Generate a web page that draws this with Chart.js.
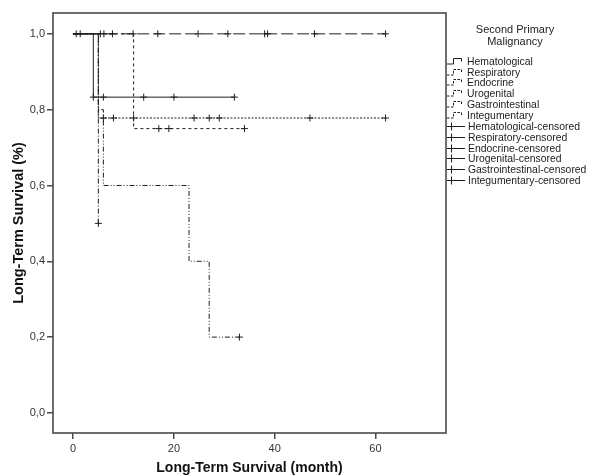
<!DOCTYPE html>
<html>
<head>
<meta charset="utf-8">
<script src="https://cdn.jsdelivr.net/npm/chart.js@4/dist/chart.umd.min.js"></script>
<style>
  html, body { margin: 0; padding: 0; background: #fff; }
  #wrap { width: 589px; height: 475px; }
</style>
</head>
<body>
<div id="wrap"><canvas id="km_chart"></canvas></div>
<script>
var groups = ['Hematological', 'Respiratory', 'Endocrine', 'Urogenital', 'Gastrointestinal', 'Integumentary'];
var xTicks = [0, 20, 40, 60];
var yTicks = [0, 0.2, 0.4, 0.6, 0.8, 1.0];

// step curves: time (month) and survival after that time
var hemTime = [0, 4, 32];
var hemSurv = [1, 0.833, 0.833];
var resTime = [0, 12, 34];
var resSurv = [1, 0.75, 0.75];
var endTime = [0, 5, 62];
var endSurv = [1, 0.778, 0.778];
var uroTime = [0, 5];
var uroSurv = [1, 0.5];
var gasTime = [0, 5, 6, 23, 27, 33];
var gasSurv = [1, 0.8, 0.6, 0.4, 0.2, 0.2];
var intTime = [0, 62];
var intSurv = [1, 1];

// censored cases
var hemCensTime = [4, 6, 14, 20, 32];
var hemCensSurv = [0.833, 0.833, 0.833, 0.833, 0.833];
var resCensTime = [17, 19, 34];
var resCensSurv = [0.75, 0.75, 0.75];
var endCensTime = [6, 8, 12, 24, 27, 29, 47, 62];
var endCensSurv = [0.778, 0.778, 0.778, 0.778, 0.778, 0.778, 0.778, 0.778];
var uroCensTime = [0.6, 1.4, 5];
var uroCensSurv = [1, 1, 0.5];
var gasCensTime = [33];
var gasCensSurv = [0.2];
var intCensTime = [5.4, 6.1, 7.8, 11.9, 16.8, 24.8, 30.7, 38, 38.6, 47.9, 62];
var intCensSurv = [1, 1, 1, 1, 1, 1, 1, 1, 1, 1, 1];

var curves = [
    [hemTime, hemSurv, []],
    [resTime, resSurv, [3, 3]],
    [endTime, endSurv, [2, 1.5]],
    [uroTime, uroSurv, [5, 2, 1, 2]],
    [gasTime, gasSurv, [5, 2, 1, 2, 1, 2]],
    [intTime, intSurv, [12, 4]]
];
var censored = [
    [hemCensTime, hemCensSurv],
    [resCensTime, resCensSurv],
    [endCensTime, endCensSurv],
    [uroCensTime, uroCensSurv],
    [gasCensTime, gasCensSurv],
    [intCensTime, intCensSurv]
];

function toPoints(t, s) {
    return t.map(function(v, i) { return {x: v, y: s[i]}; });
}

var ink = '#1e1e1e';
var datasets = [];
groups.forEach(function(g, i) {
    datasets.push({
        label: g,
        data: toPoints(curves[i][0], curves[i][1]),
        showLine: true,
        stepped: 'before',
        borderColor: ink,
        borderWidth: 1,
        borderDash: curves[i][2],
        pointRadius: 0,
        kind: 'line'
    });
});
groups.forEach(function(g, i) {
    datasets.push({
        label: g + '-censored',
        data: toPoints(censored[i][0], censored[i][1]),
        showLine: false,
        pointStyle: 'cross',
        pointRadius: 3.5,
        borderColor: ink,
        borderWidth: 1,
        kind: 'cens'
    });
});

var framePlugin = {
    id: 'frame',
    beforeDatasetsDraw: function(chart) {
        var a = chart.chartArea, ctx = chart.ctx;
        ctx.save();
        ctx.strokeStyle = '#4a4a4a';
        ctx.lineWidth = 1.6;
        ctx.strokeRect(a.left, a.top, a.right - a.left, a.bottom - a.top);
        ctx.restore();
    }
};

var legendPlugin = {
    id: 'kmLegend',
    afterDraw: function(chart) {
        var ctx = chart.ctx;
        ctx.save();
        ctx.fillStyle = '#222';
        ctx.font = '11px Arial, "Liberation Sans"';
        ctx.textAlign = 'center';
        ctx.textBaseline = 'middle';
        ctx.fillText('Second Primary', 515, 30);
        ctx.fillText('Malignancy', 515, 42);
        ctx.textAlign = 'left';
        ctx.font = '10.4px Arial, "Liberation Sans"';
        ctx.strokeStyle = ink;
        ctx.lineWidth = 1;
        chart.data.datasets.forEach(function(ds, i) {
            var y = Math.round(60.7 + i * 10.85) + 0.5;
            ctx.beginPath();
            if (ds.kind === 'line') {
                ctx.setLineDash(ds.borderDash.length ? [2.5, 1.5] : []);
                ctx.moveTo(447, y + 2.5);
                ctx.lineTo(453.5, y + 2.5);
                ctx.lineTo(453.5, y - 3);
                ctx.lineTo(461.5, y - 3);
                ctx.lineTo(461.5, y);
                ctx.stroke();
                ctx.setLineDash([]);
                ctx.fillText(ds.label, 467, y + 0.5);
            } else {
                ctx.setLineDash([]);
                ctx.moveTo(447, y);
                ctx.lineTo(465, y);
                ctx.moveTo(451.5, y - 4);
                ctx.lineTo(451.5, y + 4);
                ctx.stroke();
                ctx.fillText(ds.label, 468, y + 0.5);
            }
        });
        ctx.restore();
    }
};

new Chart(document.getElementById('km_chart').getContext('2d'), {
    type: 'scatter',
    data: { datasets: datasets },
    plugins: [framePlugin, legendPlugin],
    options: {
        responsive: true,
        maintainAspectRatio: false,
        devicePixelRatio: 1,
        animation: false,
        layout: { padding: { top: 13, right: 143, left: 0, bottom: 0 } },
        plugins: { legend: { display: false }, tooltip: { enabled: false } },
        scales: {
            x: {
                type: 'linear',
                min: -4,
                max: 74,
                afterFit: function(s) { s.height = 42; },
                afterBuildTicks: function(s) { s.ticks = xTicks.map(function(v) { return {value: v}; }); },
                grid: { drawOnChartArea: false, drawTicks: true, tickLength: 6, color: '#4a4a4a', lineWidth: 1.5 },
                border: { display: false },
                ticks: { color: '#333', padding: 3, font: { family: 'Arial, "Liberation Sans"', size: 11 }, maxRotation: 0 },
                title: {
                    display: true,
                    text: 'Long-Term Survival (month)',
                    color: '#111',
                    font: { family: 'Arial, "Liberation Sans"', size: 14, weight: 'bold', lineHeight: 1 },
                    padding: { top: 0, bottom: 0 }
                }
            },
            y: {
                type: 'linear',
                min: -0.053,
                max: 1.055,
                afterFit: function(s) { s.width = 53; },
                afterBuildTicks: function(s) { s.ticks = yTicks.map(function(v) { return {value: v}; }); },
                grid: { drawOnChartArea: false, drawTicks: true, tickLength: 6, color: '#4a4a4a', lineWidth: 1.5 },
                border: { display: false },
                ticks: {
                    color: '#333',
                    padding: 2,
                    font: { family: 'Arial, "Liberation Sans"', size: 11 },
                    callback: function(v) { return v.toFixed(1).replace('.', ','); }
                },
                title: {
                    display: true,
                    text: 'Long-Term Survival (%)',
                    color: '#111',
                    font: { family: 'Arial, "Liberation Sans"', size: 14.5, weight: 'bold', lineHeight: 1 },
                    padding: { top: 12, bottom: 0 }
                }
            }
        }
    }
});
</script>
</body>
</html>
